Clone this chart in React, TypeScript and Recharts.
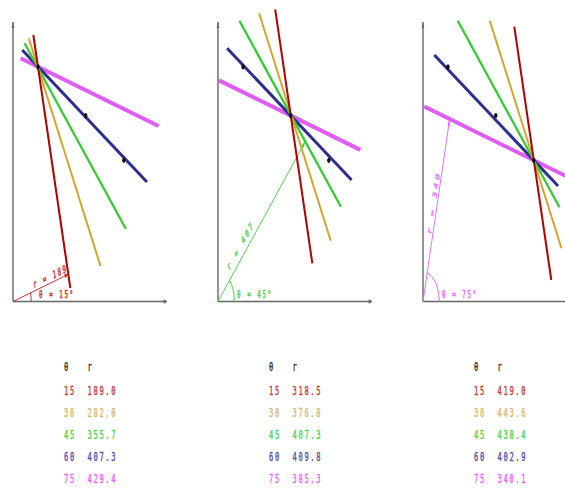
import React from "react";
import { ComposedChart, Line, Scatter, XAxis, YAxis, ReferenceLine } from "recharts";

// angles tried at every point, and the colour of each line
const thetas = [15, 30, 45, 60, 75];
const lineColors = ["#b00000", "#d4a52c", "#3c3", "#2e2e8f", "#e05cf5"];
const textColors = ["#c83838", "#d8b86a", "#4cd44c", "#5050aa", "#ec60ff"];

// the three points (data units)
const pointX = [82.5, 240, 365.7];
const pointY = [422.5, 334.6, 254.1];

// r = x cos θ + y sin θ, as printed under each panel
const rPoint1 = [189.0, 282.0, 355.7, 407.3, 429.4];
const rPoint2 = [318.5, 376.8, 407.3, 409.8, 385.3];
const rPoint3 = [419.0, 443.6, 438.4, 402.9, 340.1];

// where each drawn segment starts / stops (y, data units)
const ends1 = [[479.7, 24.3], [473.8, 63.9], [464.8, 130.5], [452.7, 215.1], [437.8, 315.9]];
const ends2 = [[526, 68.8], [518.8, 109.4], [505.4, 170.6], [455.8, 218.7], [398, 273]];
const ends3 = [[494.6, 38.7], [505.4, 95.8], [505.4, 169.6], [443.7, 207.9], [351, 217]];

const lineWidths = [2, 2, 2.3, 3, 4];

// picture is squeezed sideways: data units per pixel
const SX = 3.3;
const SY = 1.8;
const K = SY / SX;
const W = 200;
const H = 320;
const OX = 13;
const OY = 301.5;
const AXIS_X = 508;
const AXIS_Y = 503;
const MONO = "'DejaVu Sans Mono', monospace";

const panels = [
  { left: 0, rs: rPoint1, ends: ends1, mark: 0, color: "#cc3333", arcR: 60, thetaDx: 26, along: 40, off: 3 },
  { left: 205, rs: rPoint2, ends: ends2, mark: 2, color: "#55d055", arcR: 54, thetaDx: 19, along: 36, off: 7 },
  { left: 410, rs: rPoint3, ends: ends3, mark: 4, color: "#e070ff", arcR: 54, thetaDx: 19, along: 68, off: 3 },
];

const rad = (d: number) => (d * Math.PI) / 180;

const segment = (theta: number, r: number, ys: number[]) =>
  ys.map((y) => ({ x: (r - y * Math.sin(rad(theta))) / Math.cos(rad(theta)), y }));

const arrow = (x: number, y: number, dx: number, dy: number, color: string, len = 6, half = 2.5) => {
  const a = (Math.atan2(dy, dx / K) * 180) / Math.PI;
  return (
    <polygon
      transform={`translate(${x} ${y}) scale(${K} 1) rotate(${a})`}
      points={`0,0 ${-len},${-half} ${-len},${half}`}
      fill={color}
    />
  );
};

const AxisShape = (p: any) => (
  <g>
    <line x1={p.x1} y1={p.y1} x2={p.x2} y2={p.y2} stroke="#666" strokeWidth={1.4} />
    {arrow(p.x2, p.y2, p.x2 - p.x1, p.y2 - p.y1, "#666", 6, 2.5)}
  </g>
);

const makeRShape = (color: string, label: string, theta: number, along: number, off: number) => (p: any) => (
  <g>
    <line x1={p.x1} y1={p.y1} x2={p.x2} y2={p.y2} stroke={color} strokeWidth={1} />
    {arrow(p.x2, p.y2, p.x2 - p.x1, p.y2 - p.y1, color, 7, 2.5)}
    <text
      transform={`translate(${p.x1} ${p.y1}) scale(${K} 1) rotate(${-theta})`}
      x={along}
      y={-off}
      fill={color}
      stroke={color}
      strokeWidth={0.5}
      fontSize={10.5}
      letterSpacing={3}
      fontFamily={MONO}
    >
      {label}
    </text>
  </g>
);

const makeArcShape = (color: string, theta: number, dx: number) => (p: any) => {
  const rx = p.x2 - p.x1;
  const ry = p.y1 - p.y2;
  const ex = p.x1 + rx * Math.cos(rad(theta));
  const ey = p.y1 - ry * Math.sin(rad(theta));
  return (
    <g>
      <path d={`M ${p.x1 + rx} ${p.y1} A ${rx} ${ry} 0 0 0 ${ex} ${ey}`} fill="none" stroke={color} strokeWidth={1} />
      <text
        transform={`translate(${p.x1 + dx} ${p.y1 - 3.5}) scale(${K} 1)`}
        fill={color}
        stroke={color}
        strokeWidth={0.5}
        fontSize={10.5}
        letterSpacing={3}
        fontFamily={MONO}
      >
        {`θ = ${theta}°`}
      </text>
    </g>
  );
};

const Dot = (p: any) => <ellipse cx={p.cx} cy={p.cy} rx={1.7} ry={2.6} fill="#111" />;

const points = pointX.map((x, i) => ({ x, y: pointY[i] }));

const Panel = ({ cfg }: { cfg: (typeof panels)[number] }) => {
  const th = thetas[cfg.mark];
  const r = cfg.rs[cfg.mark];
  const order = [4, 3, 2, 1, 0];
  return (
    <div style={{ position: "absolute", left: cfg.left, top: 0 }}>
      <ComposedChart width={W} height={H} margin={{ top: 0, right: 0, bottom: 0, left: 0 }}>
        <XAxis type="number" dataKey="x" domain={[-OX * SX, (W - OX) * SX]} allowDataOverflow hide />
        <YAxis type="number" dataKey="y" domain={[-(H - OY) * SY, OY * SY]} allowDataOverflow hide />
        <ReferenceLine segment={[{ x: 0, y: 0 }, { x: 0, y: AXIS_Y }]} shape={AxisShape} />
        <ReferenceLine segment={[{ x: 0, y: 0 }, { x: AXIS_X, y: 0 }]} shape={AxisShape} />
        <ReferenceLine
          segment={[{ x: 0, y: 0 }, { x: cfg.arcR, y: cfg.arcR }]}
          shape={makeArcShape(cfg.color, th, cfg.thetaDx)}
        />
        <ReferenceLine
          segment={[{ x: 0, y: 0 }, { x: r * Math.cos(rad(th)), y: r * Math.sin(rad(th)) }]}
          shape={makeRShape(cfg.color, `r = ${Math.round(r)}`, th, cfg.along, cfg.off)}
        />
        {order.map((i) => (
          <Line
            key={i}
            data={segment(thetas[i], cfg.rs[i], cfg.ends[i])}
            dataKey="y"
            type="linear"
            stroke={lineColors[i]}
            strokeWidth={lineWidths[i]}
            dot={false}
            activeDot={false}
            isAnimationActive={false}
          />
        ))}
        <Scatter data={points} shape={Dot} isAnimationActive={false} />
      </ComposedChart>
    </div>
  );
};

const tableLefts = [64, 269, 474];

const Table = ({ left, rs }: { left: number; rs: number[] }) => (
  <div
    style={{
      position: "absolute",
      left,
      top: 356,
      fontFamily: MONO,
      fontSize: 13,
      letterSpacing: 3,
      lineHeight: "22px",
      whiteSpace: "pre",
      WebkitTextStroke: "0.4px currentColor",
      transform: `scaleX(${K})`,
      transformOrigin: "0 0",
    }}
  >
    <div style={{ color: "#333", height: 24 }}>{"θ   r"}</div>
    {thetas.map((t, i) => (
      <div key={t} style={{ color: textColors[i], height: 22 }}>
        {`${t}  ${rs[i].toFixed(1)}`}
      </div>
    ))}
  </div>
);

export default function App() {
  return (
    <div
      style={{
        position: "absolute",
        left: 0,
        top: 0,
        width: 565,
        height: 489,
        overflow: "hidden",
        background: "#fff",
      }}
    >
      {panels.map((p, i) => (
        <Panel key={i} cfg={p} />
      ))}
      {panels.map((p, i) => (
        <Table key={i} left={tableLefts[i]} rs={p.rs} />
      ))}
    </div>
  );
}
